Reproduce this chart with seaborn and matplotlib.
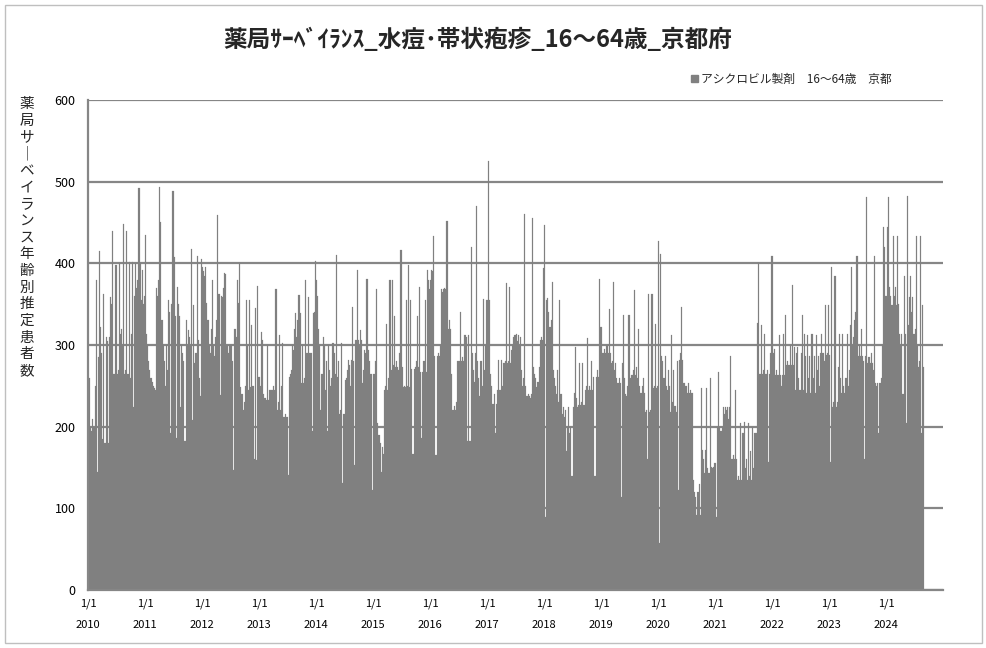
import numpy as np
import pandas as pd
import matplotlib
matplotlib.use("Agg")
import matplotlib.pyplot as plt
from matplotlib.patches import Patch, Rectangle
import seaborn as sns

# ---- data: weekly estimated patients, one list per year ----
years = list(range(2010, 2025))
w2010 = [150,260,200,195,210,200,250,380,145,285,415,322,290,185,363,180,310,305,180,310,
         359,350,440,265,265,398,265,270,400,314,320,300,448,265,270,440,265,402,260,314,
         402,224,360,400,370,380,492,400,355,392,350,360]
w2011 = [435,314,300,280,270,260,255,250,247,245,370,360,380,494,451,330,300,280,250,300,
         270,355,340,192,350,488,408,335,186,371,350,335,224,300,290,280,182,330,300,318,
         310,300,418,208,349,278,290,409,306,260,237,405]
w2012 = [396,390,384,395,351,330,300,290,320,380,300,286,310,330,459,363,239,360,359,370,
         388,387,300,300,290,300,300,280,147,320,320,310,380,351,400,249,240,220,230,250,
         355,300,245,355,249,324,250,161,345,159,372,261]
w2013 = [261,250,316,306,240,235,233,300,233,245,245,245,245,250,245,369,220,230,312,220,
         250,302,212,212,215,212,141,261,265,269,300,294,320,339,310,330,361,339,253,300,
         253,260,380,290,290,359,290,290,195,339,340,403]
w2014 = [380,360,320,300,220,265,310,300,245,280,195,300,270,250,260,302,290,265,410,261,
         280,216,220,302,131,216,257,260,270,282,275,250,282,347,280,153,306,392,306,300,
         318,306,253,270,294,290,381,294,280,265,265,122]
w2015 = [265,265,280,369,204,190,180,145,175,167,245,250,326,245,260,380,270,380,275,335,
         273,280,273,270,290,416,273,249,250,249,355,250,398,249,355,271,167,271,273,280,
         335,273,371,267,186,267,280,355,267,392,380,369]
w2016 = [380,392,390,433,286,165,286,290,286,300,369,365,369,370,369,452,320,330,320,265,
         220,220,225,220,230,280,280,341,280,285,280,312,312,310,182,312,182,420,290,270,
         255,290,470,280,260,237,280,250,356,270,300,355]
w2017 = [355,525,355,265,250,228,240,192,228,245,282,245,245,282,250,278,280,376,278,280,
         371,278,294,300,310,312,314,305,312,300,310,270,250,260,460,250,237,240,237,235,
         240,455,273,265,260,249,255,273,306,310,306,394]
w2018 = [447,90,355,357,340,322,330,377,269,260,250,240,269,230,355,240,215,224,212,220,
         170,200,224,192,200,139,224,241,298,235,224,226,278,226,230,278,226,245,250,308,
         245,250,245,280,245,261,139,261,270,261,381,322]
w2019 = [322,290,290,295,290,300,290,344,290,278,280,377,270,278,260,253,260,253,114,278,
         337,260,240,237,250,337,260,263,263,270,367,263,273,260,320,250,241,250,260,241,
         218,220,160,363,218,220,363,247,250,326,247,250]
w2020 = [427,57,412,286,280,260,286,250,245,269,250,218,312,230,269,225,218,280,122,282,
         290,347,282,253,253,250,241,253,241,245,241,241,135,120,114,92,120,130,92,247,
         171,160,143,171,247,150,143,260,151,150,151,155]
w2021 = [155,90,200,267,200,195,200,224,215,224,220,224,210,224,286,161,165,161,245,160,
         135,140,135,204,135,192,206,150,160,135,205,140,170,135,200,150,192,192,327,400,
         265,265,324,265,270,314,265,270,157,265,290,409]
w2022 = [409,290,295,263,270,263,312,263,250,263,314,263,337,276,280,276,300,276,373,276,
         298,245,290,298,260,245,290,337,245,314,286,241,312,260,286,241,314,260,286,241,
         312,270,286,250,290,314,290,280,349,288,290,349]
w2023 = [288,157,396,224,230,384,224,230,273,314,260,241,314,250,241,260,314,250,270,324,
         396,300,310,330,340,409,286,300,286,320,286,280,160,286,481,278,285,278,290,278,
         270,409,253,250,253,192,253,260,300,445,420,360]
w2024 = [360,445,481,371,360,349,433,360,371,349,433,350,314,300,314,240,384,314,204,482,
         324,359,384,340,359,314,320,433,300,273,280,433,192,349,273]
weekly = [w2010, w2011, w2012, w2013, w2014, w2015, w2016, w2017, w2018, w2019,
          w2020, w2021, w2022, w2023, w2024]

y_ticks = [0, 100, 200, 300, 400, 500, 600]
x_tick_labels = [f"1/1\n\n{y}" for y in years]

title = "薬局ｻｰﾍﾞｲﾗﾝｽ_水痘･帯状疱疹_16～64歳_京都府"
series_label = "アシクロビル製剤　16～64歳　京都"
ylabel_chars = ["薬", "局", "サ", "｜", "ベ", "イ", "ラ", "ン", "ス",
                "年", "齢", "別", "推", "定", "患", "者", "数"]

# ---- build table ----
rows = []
for yr, vals in zip(years, weekly):
    for i, v in enumerate(vals):
        rows.append({"t": yr + (i + 0.5) / 52.0, "v": v})
df = pd.DataFrame(rows)

sns.set_style("white")
plt.rcParams["font.family"] = ["Noto Sans CJK JP", "DejaVu Sans"]

fig = plt.figure(figsize=(9.87, 6.48), dpi=100)
ax = fig.add_axes([88 / 987, 1 - 590 / 648, (943 - 88) / 987, (590 - 100) / 648])

bar_color = "#808080"
grid_color = "#868686"
sns.histplot(data=df, x="t", weights="v", binwidth=1 / 52.0, binrange=(2010, 2025),
             color=bar_color, alpha=1.0, edgecolor=bar_color, linewidth=0.15, ax=ax)

ax.set_xlim(2010, 2025)
ax.set_ylim(0, 600)
ax.set_yticks(y_ticks)
ax.set_xticks(years)
ax.set_xticklabels(x_tick_labels, fontsize=8, linespacing=1.05)
ax.tick_params(axis="y", length=0, pad=9, labelsize=9, colors="black")
ax.tick_params(axis="x", length=3, width=1, color=grid_color, pad=3, labelsize=8, colors="black")
ax.set_xlabel("")
ax.set_ylabel("")
ax.yaxis.grid(True, color=grid_color, linewidth=1.6)
ax.set_axisbelow(True)
for s in ["top", "right"]:
    ax.spines[s].set_visible(False)
for s in ["left", "bottom"]:
    ax.spines[s].set_color(grid_color)
    ax.spines[s].set_linewidth(1.6)

fig.text(478 / 987, 1 - 40 / 648, title, ha="center", va="center",
         fontsize=17, fontweight="bold")
fig.text(27 / 987, 1 - 237.5 / 648, "\n".join(ylabel_chars), ha="center", va="center",
         fontsize=10.5, linespacing=1.24)

leg = fig.legend(handles=[Patch(facecolor=bar_color, edgecolor=bar_color)],
                 labels=[series_label], loc="center right",
                 bbox_to_anchor=(892 / 987, 1 - 79 / 648), frameon=False,
                 fontsize=8.5, handlelength=0.6, handleheight=0.6, handletextpad=0.3,
                 borderaxespad=0, borderpad=0)

fig.patches.append(Rectangle((5 / 987, 5 / 648), 977 / 987, 638 / 648,
                             transform=fig.transFigure, fill=False,
                             edgecolor="#bfbfbf", linewidth=1))

fig.savefig("out.png", dpi=100)
